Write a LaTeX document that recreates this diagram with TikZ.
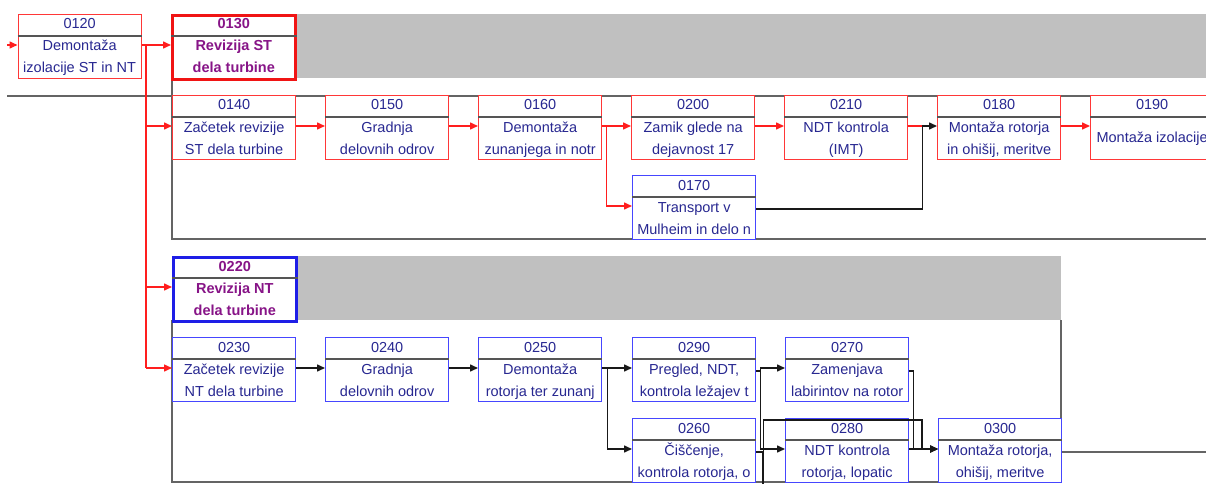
\documentclass[tikz,border=0pt]{standalone}
\usepackage{fontspec}
\setmainfont{Liberation Sans}
\usetikzlibrary{calc,arrows.meta}
\definecolor{navy}{RGB}{40,40,145}
\definecolor{purp}{RGB}{135,20,135}
\definecolor{redb}{RGB}{255,55,55}
\definecolor{redk}{RGB}{240,20,20}
\definecolor{blueb}{RGB}{70,70,255}
\definecolor{bluek}{RGB}{30,30,230}
\definecolor{divc}{RGB}{85,85,85}
\definecolor{sepc}{RGB}{100,100,100}
\definecolor{bandc}{RGB}{192,192,192}
\definecolor{redline}{RGB}{255,30,30}
\definecolor{blkline}{RGB}{25,25,25}
\tikzset{
  boxbase/.style={rectangle, inner sep=0pt, minimum width=123pt, minimum height=64pt, fill=white},
  redbox/.style={boxbase, draw=redb, line width=1.3pt},
  redthick/.style={boxbase, draw=redk, line width=2.6pt},
  bluebox/.style={boxbase, draw=blueb, line width=1.3pt},
  bluethick/.style={boxbase, draw=bluek, line width=2.6pt},
  divider/.style={draw=divc, line width=1.4pt},
  plaintext/.style={inner sep=0pt, text=navy, font=\fontsize{14.5}{16}\selectfont},
  boldtext/.style={inner sep=0pt, text=purp, font=\fontsize{14.5}{16}\selectfont\bfseries},
  tip/.style={-{Triangle[length=8pt,width=7pt]}},
  redc/.style={draw=redline, line width=1.5pt},
  blkc/.style={draw=blkline, line width=1.5pt},
  sepline/.style={draw=sepc, line width=1.8pt},
  band/.style={fill=bandc}
}
% name, x, y(top), box style, text style, code, line 1, line 2
\newcommand\actbox[8]{%
  \node[#4, anchor=north west] (#1) at (#2,#3) {};
  \draw[divider] ($(#1.north west)+(0,22)$) -- ($(#1.north east)+(0,22)$);
  \node[#5, anchor=base] (#1-c) at ($(#1.north)+(0,15)$) {#6};
  \if\relax\detokenize{#8}\relax
    \node[#5, anchor=base] (#1-a) at ($(#1.north)+(0,47)$) {#7};
  \else
    \node[#5, anchor=base] (#1-a) at ($(#1.north)+(0,37)$) {#7};
    \node[#5, anchor=base] (#1-b) at ($(#1.north)+(0,59)$) {#8};
  \fi
  \coordinate (#1-in) at ($(#1.north west)+(0,31)$);
  \coordinate (#1-out) at ($(#1.north east)+(0,34)$);
}
\begin{document}
\begin{tikzpicture}[x=1pt,y=-1pt]
\useasboundingbox (0,0) rectangle (1206,484);
\clip (0,0) rectangle (1206,484);
% gray bands
\fill[band] (294,14) rectangle (1215,78);
\fill[band] (294,256) rectangle (1061,320);
% separator and container lines
\coordinate (sepL) at (7,96);
\coordinate (sepR) at (1215,96);
\draw[sepline] (sepL) -- (sepR);
\coordinate (c1b) at (172,239);
\coordinate (c1r) at (1215,239);
\draw[sepline] (172,78) -- (c1b) -- (c1r);
\coordinate (c2b) at (172,482);
\coordinate (c2r) at (1061,482);
\coordinate (c2t) at (1061,320);
\draw[sepline] (172,320) -- (c2b) -- (c2r);
\draw[sepline] (c2t) -- (1061,418);
% boxes ST
\actbox{b0120}{17.5}{14}{redbox}{plaintext}{0120}{Demontaža}{izolacije ST in NT}
\actbox{b0130}{171}{14}{redthick}{boldtext}{0130}{Revizija ST}{dela turbine}
\actbox{b0140}{172}{95}{redbox}{plaintext}{0140}{Začetek revizije}{ST dela turbine}
\actbox{b0150}{325}{95}{redbox}{plaintext}{0150}{Gradnja}{delovnih odrov}
\actbox{b0160}{478}{95}{redbox}{plaintext}{0160}{Demontaža}{zunanjega in notr}
\actbox{b0200}{631}{95}{redbox}{plaintext}{0200}{Zamik glede na}{dejavnost 17}
\actbox{b0210}{784}{95}{redbox}{plaintext}{0210}{NDT kontrola}{(IMT)}
\actbox{b0180}{937}{95}{redbox}{plaintext}{0180}{Montaža rotorja}{in ohišij, meritve}
\actbox{b0190}{1090}{95}{redbox}{plaintext}{0190}{Montaža izolacije}{}
\actbox{b0170}{632}{175}{bluebox}{plaintext}{0170}{Transport v}{Mulheim in delo n}
% boxes NT
\actbox{b0220}{172}{256}{bluethick}{boldtext}{0220}{Revizija NT}{dela turbine}
\actbox{b0230}{172}{337}{bluebox}{plaintext}{0230}{Začetek revizije}{NT dela turbine}
\actbox{b0240}{325}{337}{bluebox}{plaintext}{0240}{Gradnja}{delovnih odrov}
\actbox{b0250}{478}{337}{bluebox}{plaintext}{0250}{Demontaža}{rotorja ter zunanj}
\actbox{b0290}{632}{337}{bluebox}{plaintext}{0290}{Pregled, NDT,}{kontrola ležajev t}
\actbox{b0270}{785}{337}{bluebox}{plaintext}{0270}{Zamenjava}{labirintov na rotor}
\actbox{b0260}{632}{418}{bluebox}{plaintext}{0260}{Čiščenje,}{kontrola rotorja, o}
\actbox{b0280}{785}{418}{bluebox}{plaintext}{0280}{NDT kontrola}{rotorja, lopatic}
\actbox{b0300}{938}{418}{bluebox}{plaintext}{0300}{Montaža rotorja,}{ohišij, meritve}
% red connectors
\coordinate (start) at (7,45);
\draw[redc,tip] (start) -- (b0120-in);
\draw[redc,tip] (b0120-in -| b0120.east) -- (b0130-in);
\coordinate (j1) at ($(b0120-in -| b0120.east)+(4,0)$);
\draw[redc,line width=2.2pt] (j1) -- (j1 |- b0230-in);
\draw[redc,tip] (j1 |- b0140-in) -- (b0140-in);
\draw[redc,tip] (j1 |- b0220-in) -- (b0220-in);
\draw[redc,tip] (j1 |- b0230-in) -- (b0230-in);
\draw[redc,tip] (b0140-in -| b0140.east) -- (b0150-in);
\draw[redc,tip] (b0150-in -| b0150.east) -- (b0160-in);
\draw[redc,tip] (b0160-in -| b0160.east) -- (b0200-in);
\coordinate (j2) at ($(b0160-in -| b0160.east)+(4,0)$);
\draw[redc,tip] (j2) |- (b0170-in);
\draw[redc,tip] (b0200-in -| b0200.east) -- (b0210-in);
\coordinate (j3) at ($(b0210-in -| b0210.east)+(14,0)$);
\draw[redc] (b0210-in -| b0210.east) -- (j3);
\draw[blkc,tip] (b0170-out) -| (j3) -- (b0180-in);
\draw[redc,tip] (b0180-in -| b0180.east) -- (b0190-in);
% black connectors
\draw[blkc,tip] (b0230-in -| b0230.east) -- (b0240-in);
\draw[blkc,tip] (b0240-in -| b0240.east) -- (b0250-in);
\draw[blkc,tip] (b0250-in -| b0250.east) -- (b0290-in);
\coordinate (j4) at ($(b0250-in -| b0250.east)+(5,0)$);
\draw[blkc,tip] (j4) |- (b0260-in);
\coordinate (j5) at ($(b0290-out)+(4,0)$);
\draw[blkc] (b0290-out) -- (j5);
\draw[blkc] (j5 |- b0270-in) -- (j5 |- b0280-in);
\draw[blkc,tip] (j5 |- b0270-in) -- (b0270-in);
\draw[blkc,tip] (j5 |- b0280-in) -- (b0280-in);
\coordinate (j6) at ($(b0260-out)+(7,0)$);
\coordinate (j6d) at ($(j6)+(0,40)$);
\draw[blkc,line width=2pt] (b0260-out) -- (j6) -- (j6d);
\coordinate (j7) at ($(j6 |- b0280.north)+(0,2)$);
\coordinate (j8) at ($(b0300-in)+(-16,0)$);
\draw[blkc,tip] (j6) -- (j7) -| (j8) -- (b0300-in);
\coordinate (j9) at ($(b0270-out)+(4,0)$);
\draw[blkc,tip] (b0270-out) -- (j9) |- (b0300-in);
\draw[blkc,tip] (b0280-in -| b0280.east) -- (b0300-in);
\coordinate (endr) at ($(b0300-out)+(160,0)$);
\draw[sepline] (b0300-out) -- (endr);
\end{tikzpicture}
\end{document}
